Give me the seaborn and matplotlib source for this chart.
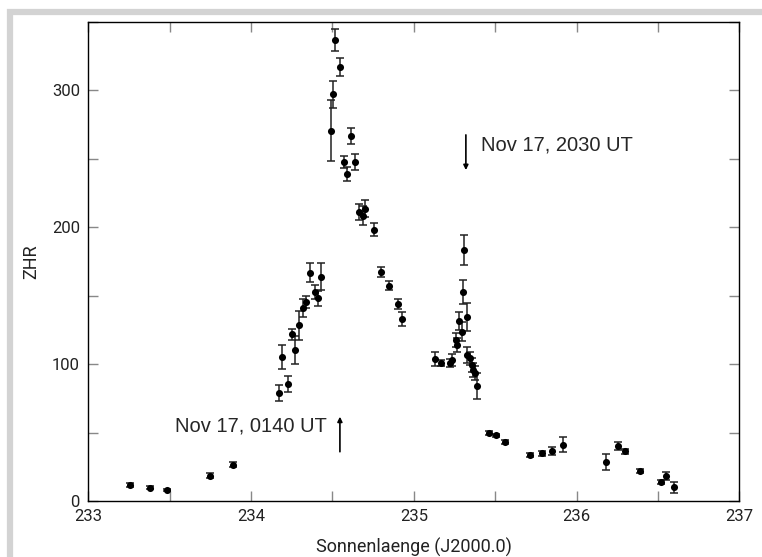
import numpy as np
import pandas as pd
import matplotlib
matplotlib.use("Agg")
import matplotlib.pyplot as plt
import seaborn as sns
from matplotlib.patches import Rectangle
from matplotlib.ticker import MultipleLocator

# solar longitude (J2000.0), ZHR and error half-width
sol = [233.258, 233.380, 233.485, 233.747, 233.890,
       234.169, 234.193, 234.228, 234.250, 234.273, 234.294, 234.320, 234.336,
       234.362, 234.395, 234.413, 234.431,
       234.490, 234.503, 234.518, 234.545, 234.571, 234.590, 234.613, 234.637,
       234.664, 234.688, 234.700, 234.754, 234.800, 234.846, 234.900, 234.930,
       235.133, 235.170, 235.222, 235.233, 235.257, 235.263, 235.278, 235.298,
       235.300, 235.306, 235.325, 235.329, 235.345, 235.356, 235.366, 235.376,
       235.386,
       235.464, 235.503, 235.563, 235.712, 235.787, 235.850, 235.918,
       236.184, 236.252, 236.298, 236.387, 236.521, 236.548, 236.599]
zhr = [11.5, 9.7, 8.1, 18.3, 26.6,
       79.0, 105.0, 85.7, 122.0, 110.4, 128.3, 141.0, 145.4,
       166.7, 152.7, 148.0, 164.0,
       270.7, 297.2, 336.9, 317.2, 247.6, 238.8, 266.8, 247.9,
       211.0, 208.4, 213.6, 198.3, 167.4, 157.3, 144.1, 133.0,
       103.9, 101.0, 100.6, 103.0, 117.6, 114.0, 131.5, 123.7,
       152.7, 183.3, 134.6, 106.6, 104.2, 99.3, 95.7, 93.3,
       84.0,
       49.4, 48.1, 42.9, 33.3, 34.8, 36.4, 41.0,
       28.6, 40.3, 36.2, 22.1, 13.9, 18.3, 9.9]
err = [1.5, 1.0, 1.0, 1.8, 2.0,
       6.0, 8.7, 5.7, 4.0, 10.5, 10.4, 6.5, 4.4,
       7.0, 5.0, 5.5, 9.7,
       22.0, 9.7, 8.0, 6.6, 4.4, 5.0, 5.8, 6.0,
       6.0, 7.0, 6.0, 5.0, 3.6, 3.2, 3.6, 4.8,
       5.0, 2.2, 3.0, 4.3, 5.0, 5.0, 6.5, 7.0,
       9.0, 11.0, 10.4, 6.0, 5.0, 5.0, 5.0, 5.0,
       9.5,
       1.5, 1.0, 1.5, 1.5, 2.0, 3.0, 5.5,
       6.0, 3.0, 2.0, 1.5, 1.5, 3.0, 4.0]

df = pd.DataFrame({"sol": sol, "zhr": zhr, "err": err})

sns.set_style("ticks")
plt.rcParams["font.family"] = ["Roboto", "DejaVu Sans"]

fig = plt.figure(figsize=(7.62, 5.57), dpi=100)
ax = fig.add_axes([88.3 / 762, 1 - 501 / 557, (739.3 - 88.3) / 762, (501 - 22) / 557])

# grey frame around the picture (cut off on right and bottom)
fig.patches.append(Rectangle((10 / 762, -0.1), 2, 1 + 0.1 - 12 / 557,
                             transform=fig.transFigure, fill=False,
                             edgecolor="#d3d3d3", linewidth=4.5, clip_on=False))

ax.errorbar(df["sol"], df["zhr"], yerr=df["err"], fmt="none",
            ecolor="#222222", elinewidth=1.1, capsize=3, capthick=1.1, zorder=2)
sns.scatterplot(data=df, x="sol", y="zhr", ax=ax, color="black", s=26,
                edgecolor="black", linewidth=0, zorder=3, legend=False)

ax.set_xlim(233, 237)
ax.set_ylim(0, 350)
ax.xaxis.set_major_locator(MultipleLocator(1))
ax.xaxis.set_minor_locator(MultipleLocator(0.5))
ax.yaxis.set_major_locator(MultipleLocator(100))
ax.yaxis.set_minor_locator(MultipleLocator(50))
ax.tick_params(which="both", direction="in", top=True, right=True,
               color="#888888", width=1, labelsize=12, labelcolor="#222222")
ax.tick_params(which="major", length=7, pad=6)
ax.tick_params(which="minor", length=7)
for s in ax.spines.values():
    s.set_linewidth(1.0)
    s.set_color("black")

ax.set_xlabel("Sonnenlaenge (J2000.0)", fontsize=13, color="#222222", labelpad=10)
ax.set_ylabel("ZHR", fontsize=13, color="#222222", labelpad=8)

arrow = dict(arrowstyle="-|>", color="black", lw=1.2, mutation_scale=7,
             shrinkA=0, shrinkB=0)
ax.annotate("", xy=(235.32, 241.8), xytext=(235.32, 267.5), arrowprops=arrow)
ax.text(235.41, 260, "Nov 17, 2030 UT", fontsize=14.5, va="center", ha="left",
        family=["Liberation Sans", "DejaVu Sans"])
ax.annotate("", xy=(234.546, 61.6), xytext=(234.546, 36), arrowprops=arrow)
ax.text(234.465, 55, "Nov 17, 0140 UT", fontsize=14.5, va="center", ha="right",
        family=["Liberation Sans", "DejaVu Sans"])

plt.savefig("out.png", dpi=100)
